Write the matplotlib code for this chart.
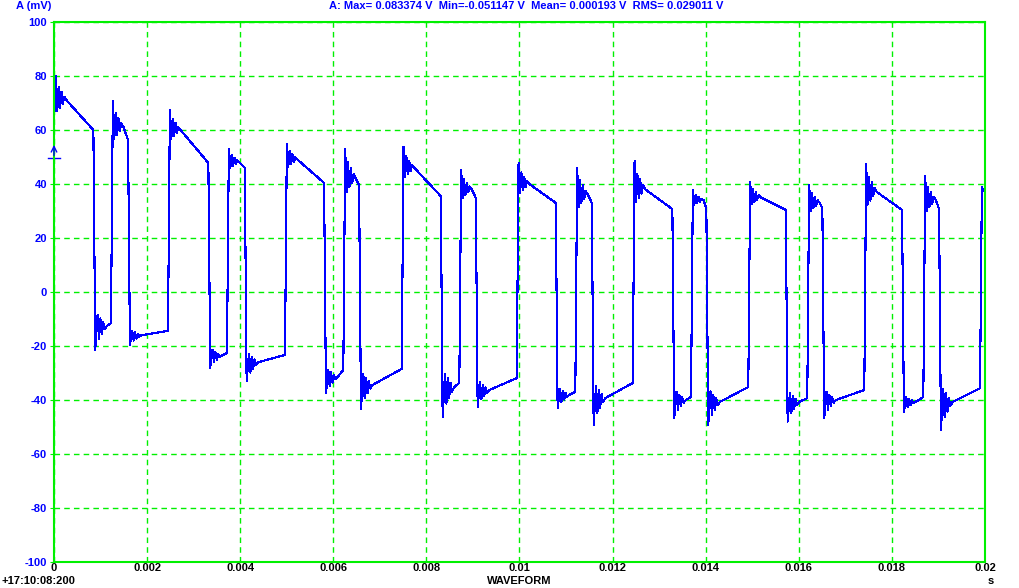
import numpy as np
import matplotlib
matplotlib.use("Agg")
import matplotlib.pyplot as plt

plt.rcParams["font.family"] = ["Liberation Sans", "DejaVu Sans"]

# values (time in ms, amplitude in mV)
start_mv = 62.6
end_ms = 20.0
rise_ms = [0.0, 1.224, 2.449, 3.716, 4.962, 6.215, 7.469, 8.707, 9.940,
           11.199, 12.432, 13.684, 14.915, 16.182, 17.407, 18.675, 19.893]
peak_mv = [80.0, 70.7, 67.4, 53.0, 54.8, 53.0, 53.7, 45.2, 47.8,
           45.9, 48.5, 37.8, 40.7, 39.6, 47.4, 43.0, 38.9]
high_start_mv = [71.0, 61.0, 60.0, 48.0, 49.0, 42.0, 46.0, 38.0, 40.0,
                 36.0, 38.0, 34.0, 35.0, 33.0, 37.0, 34.0, 37.8]
high_end_mv = [60.0, 56.3, 47.8, 46.0, 40.4, 39.6, 35.5, 34.8, 33.0,
               33.0, 30.7, 31.0, 30.4, 31.0, 30.4, 30.7]
fall_ms = [0.866, 1.611, 3.336, 4.118, 5.822, 6.574, 8.329, 9.081, 10.799,
           11.573, 13.304, 14.034, 15.740, 16.526, 18.238, 19.033]
dip_mv = [-21.5, -19.6, -28.0, -33.0, -37.4, -43.3, -46.3, -42.6, -43.0,
          -49.3, -46.7, -49.3, -48.0, -46.7, -44.4, -51.1]
low_start_mv = [-12.5, -16.0, -23.5, -26.0, -31.5, -34.4, -35.2, -36.3, -38.1,
                -39.3, -40.0, -40.7, -40.7, -40.0, -40.7, -40.7]
low_end_mv = [-11.5, -14.4, -22.6, -23.3, -28.9, -28.5, -33.7, -31.9, -37.0,
              -33.7, -38.9, -35.2, -39.3, -36.3, -38.9, -35.6]

x_ticks = [0, 0.002, 0.004, 0.006, 0.008, 0.01, 0.012, 0.014, 0.016, 0.018, 0.02]
x_labels = ["0", "0.002", "0.004", "0.006", "0.008", "0.01", "0.012",
            "0.014", "0.016", "0.018", "0.02"]
y_ticks = [-100, -80, -60, -40, -20, 0, 20, 40, 60, 80, 100]

# ringing after each edge (drawing detail, relative to the edge overshoot)
ring_dt = [0.02, 0.05, 0.08, 0.11, 0.14, 0.17, 0.20, 0.25]
ring_k = [1.0, -0.45, 0.55, -0.3, 0.35, -0.15, 0.15, 0.0]

GREEN = "#00f000"
BLUE = "#0000ff"

t = [0.0]
v = [start_mv]
for i, tr in enumerate(rise_ms):
    amp = peak_mv[i] - high_start_mv[i]
    for dt, k in zip(ring_dt, ring_k):
        t.append(tr + 0.02 + dt)
        v.append(high_start_mv[i] + k * amp)
    if i >= len(fall_ms):
        t.append(end_ms)
        v.append(high_start_mv[i])
        break
    tf = fall_ms[i]
    t += [tf - 0.02, tf + 0.02]
    v += [high_end_mv[i], dip_mv[i]]
    amp = dip_mv[i] - low_start_mv[i]
    for dt, k in zip(ring_dt[1:], ring_k[1:]):
        t.append(tf + 0.02 + dt)
        v.append(low_start_mv[i] + k * amp)
    t.append(rise_ms[i + 1])
    v.append(low_end_mv[i])

t = np.array(t) / 1000.0
v = np.array(v)

fig = plt.figure(figsize=(10.2, 5.88), dpi=100)
ax = fig.add_axes([54 / 1020, 26 / 588, 931 / 1020, 540 / 588])

ax.plot(t, v, color=BLUE, lw=0.8, antialiased=False)

ax.set_xlim(0, 0.02)
ax.set_ylim(-100, 100)
ax.set_xticks(x_ticks)
ax.set_xticklabels(x_labels)
ax.set_yticks(y_ticks)
ax.set_yticklabels([str(y) for y in y_ticks])

ax.grid(True, color=GREEN, ls=(0, (4, 3)), lw=1.0)
for s in ax.spines.values():
    s.set_color(GREEN)
    s.set_linewidth(1.5)

ax.tick_params(axis="y", colors=GREEN, labelcolor=BLUE, length=3, pad=2,
               labelsize=8)
ax.tick_params(axis="x", colors=GREEN, labelcolor="black", length=0, pad=1,
               labelsize=8)
for lab in ax.get_xticklabels() + ax.get_yticklabels():
    lab.set_fontweight("bold")

# trigger marker
ax.annotate("", xy=(0, 55.5), xytext=(0, 49.5),
            arrowprops=dict(arrowstyle="->", color=BLUE, lw=1.0),
            annotation_clip=False)
ax.plot([-0.00012, 0.00012], [49.5, 49.5], color=BLUE, lw=1.0, clip_on=False)

fig.text(16 / 1020, 1 - 6 / 588, "A (mV)", color=BLUE, fontsize=8,
         fontweight="bold", va="center", ha="left")
fig.text(329 / 1020, 1 - 6 / 588,
         "A: Max= 0.083374 V  Min=-0.051147 V  Mean= 0.000193 V  RMS= 0.029011 V",
         color=BLUE, fontsize=8, fontweight="bold", va="center", ha="left")
fig.text(1 / 1020, 1 - 581 / 588, "+17:10:08:200", color="black", fontsize=8,
         fontweight="bold", va="center", ha="left")
fig.text(519 / 1020, 1 - 581 / 588, "WAVEFORM", color="black", fontsize=8,
         fontweight="bold", va="center", ha="center")
fig.text(991 / 1020, 1 - 581 / 588, "s", color="black", fontsize=8,
         fontweight="bold", va="center", ha="center")

fig.savefig("out.png", dpi=100, facecolor="white")
